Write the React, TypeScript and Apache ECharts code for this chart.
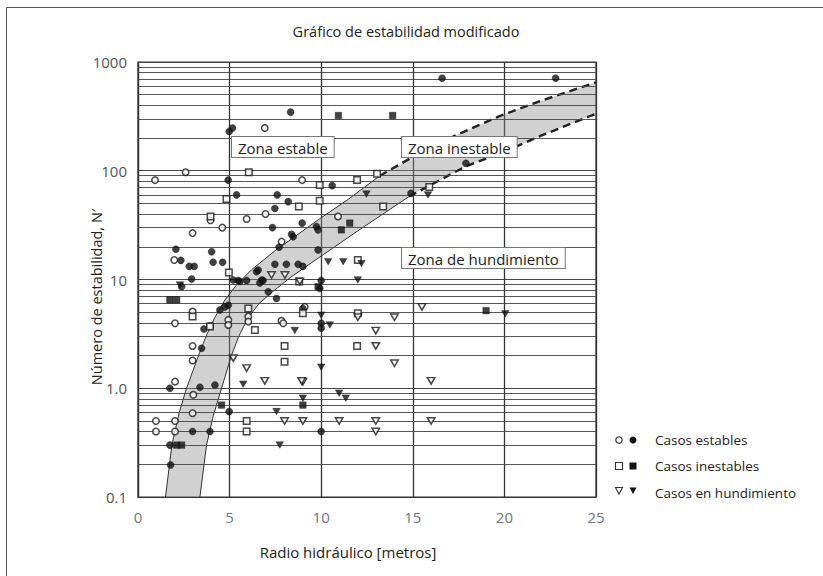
import React, { useEffect, useRef } from "react";
import * as echarts from "echarts";

// ---- data (x = radio hidráulico [m], y = número de estabilidad N') ----
const xTicks = [0, 5, 10, 15, 20, 25];
const yDecades = [0.1, 1, 10, 100];
const yMultipliers = [2, 3, 4, 5, 6, 7, 8, 9];

// transition zone boundaries
const bandUpper: number[][] = [
  [1.5, 0.1], [1.85, 0.3], [2.25, 0.6], [2.65, 1.0], [3.0, 1.45], [3.35, 2.1], [3.75, 3.1],
  [4.2, 4.5], [4.75, 6.5], [5.4, 9.0], [6.2, 12.3], [7.5, 18.5], [9.9, 36], [11.5, 55],
  [13.2, 90], [15.2, 140], [17.4, 214], [19.7, 316], [22, 440], [25, 650],
];
const bandLower: number[][] = [
  [3.38, 0.1], [3.74, 0.3], [4.1, 0.55], [4.56, 1.0], [5.1, 2.0], [5.5, 3.0], [6.0, 4.4],
  [6.6, 6.0], [7.3, 7.6], [8.3, 10.4], [9.9, 16], [12, 28], [14.8, 58], [17.9, 110],
  [20, 150], [22, 210], [25, 335],
];
const upperDashFrom = 14; // index in bandUpper where the dashed part starts
const lowerDashFrom = 12;

const establesOpen: number[][] = [
  [6.92, 247], [0.93, 82], [2.6, 97], [8.96, 82], [6.96, 40], [3.96, 35], [5.93, 36],
  [4.6, 30], [2.98, 26.7], [1.98, 15.1], [7.84, 22.3], [10.92, 38], [2.98, 5.07],
  [2.02, 3.96], [4.93, 4.25], [4.93, 3.82], [6.02, 4.56], [6.02, 4.1], [2.98, 2.45],
  [2.98, 1.8], [7.83, 4.17], [7.93, 3.96], [9.1, 5.6], [3.93, 3.74], [2.02, 1.15],
  [3.02, 0.87], [2.98, 0.59], [0.98, 0.5], [0.98, 0.4], [2.02, 0.5], [2.02, 0.4],
];
const establesFilled: number[][] = [
  [8.33, 346], [16.6, 710], [22.8, 710], [4.98, 230], [5.16, 247], [4.92, 82], [10.6, 73],
  [5.38, 60], [7.6, 60], [8.2, 52], [7.47, 45], [7.34, 30], [8.96, 33], [2.07, 19],
  [2.34, 15], [2.8, 13.2], [3.07, 13.2], [4.02, 18], [4.1, 14.4], [4.62, 14.4], [8.38, 26],
  [8.47, 24.7], [7.7, 19.8], [9.74, 30.7], [9.83, 28.6], [9.83, 18.7], [2.93, 10.1],
  [2.38, 8.6], [7.47, 13.8], [8.1, 13.8], [8.74, 13.8], [9.0, 13.2], [5.2, 9.9], [5.47, 9.8],
  [5.93, 9.8], [6.83, 9.8], [6.75, 9.9], [6.65, 9.3], [5.56, 9.6], [6.47, 11.8], [6.56, 12.2],
  [10.0, 9.8], [9.92, 8.3], [14.9, 62], [17.9, 117], [10.0, 3.96], [10.0, 3.57], [10.0, 0.4],
  [4.47, 5.25], [4.93, 5.8], [4.74, 5.6], [3.6, 3.5], [3.47, 2.33], [1.74, 1.0], [3.38, 1.02],
  [4.2, 1.07], [4.98, 0.61], [2.98, 0.4], [3.93, 0.4], [1.78, 0.197], [1.74, 0.3],
  [7.56, 6.7], [7.11, 7.7], [9.0, 5.4],
];
const inestablesOpen: number[][] = [
  [6.05, 97], [9.92, 74], [4.83, 55], [8.78, 47], [9.92, 53], [3.96, 38], [13.05, 94],
  [13.38, 47], [11.96, 82], [15.9, 71], [4.96, 11.6], [8.8, 9.6], [2.98, 4.56], [3.93, 3.69],
  [6.02, 5.4], [6.38, 3.44], [8.0, 2.45], [8.0, 1.75], [9.0, 4.9], [5.93, 0.5], [5.93, 0.4],
  [11.96, 2.45], [12.0, 4.9], [12.0, 15.1],
];
const inestablesFilled: number[][] = [
  [10.94, 322], [13.9, 322], [11.56, 33], [11.1, 28.6], [9.83, 8.6], [19.0, 5.17],
  [9.0, 0.7], [1.74, 6.5], [2.11, 6.5], [4.56, 0.7], [2.11, 0.3], [2.38, 0.3],
];
const hundimientoOpen: number[][] = [
  [7.29, 11.0], [8.02, 11.0], [8.83, 9.6], [12.0, 4.5], [14.0, 4.5], [12.98, 3.39],
  [12.98, 2.45], [14.0, 1.7], [15.5, 5.6], [16.0, 1.17], [9.0, 1.15], [9.0, 0.5],
  [10.98, 0.5], [12.98, 0.5], [12.98, 0.4], [16.0, 0.5], [5.2, 1.89], [5.93, 1.53],
  [6.92, 1.17], [8.93, 1.17], [8.0, 0.5],
];
const hundimientoFilled: number[][] = [
  [12.47, 61], [15.83, 60], [10.38, 14.6], [11.2, 14.6], [12.2, 14.0], [12.0, 9.9],
  [10.0, 4.7], [10.47, 3.82], [10.0, 1.56], [10.98, 0.9], [11.34, 0.81], [9.0, 0.81],
  [20.05, 4.83], [7.56, 0.61], [7.74, 0.3], [5.74, 1.09], [8.56, 3.39], [2.29, 8.9],
];

const legendLabels = ["Casos estables", "Casos inestables", "Casos en hundimiento"];
const zoneLabels = ["Zona estable", "Zona inestable", "Zona de hundimiento"];
const titleText = "Gráfico de estabilidad modificado";
const xName = "Radio hidráulico [metros]";
const yName = "Número de estabilidad, N′";

const FONT = "'Open Sans', 'Noto Sans', sans-serif";
const TRI = "path://M0,0L10,0L5,9Z";

export default function App() {
  const ref = useRef<HTMLDivElement>(null);
  useEffect(() => {
    if (!ref.current) return;
    const chart = echarts.init(ref.current, undefined, { renderer: "svg" });
    const minorValues: number[] = [];
    yDecades.forEach((d) => yMultipliers.forEach((m) => minorValues.push(+(d * m).toPrecision(3))));
    const polygon = bandUpper.concat(bandLower.slice().reverse());

    const openStyle = { color: "#fff", borderColor: "#1a1a1a", borderWidth: 1.5 };
    const filledStyle = { color: "#111", borderColor: "#111", borderWidth: 0.5 };
    const sc = (name: string, data: number[][], symbol: string, size: number | number[], style: any) => ({
      name, type: "scatter", data, symbol, symbolSize: size, itemStyle: style, z: 5, silent: true,
    });
    const edge = (data: number[][], dashed: boolean) => ({
      type: "line", data, symbol: "none", silent: true, z: 3,
      lineStyle: dashed
        ? { color: "#222", width: 2.4, type: [8, 5] }
        : { color: "#333", width: 1 },
    });

    const legendX = 619, legendY = [440, 466, 491];
    const legendGraphics: any[] = [];
    legendY.forEach((y, i) => {
      if (i === 0) {
        legendGraphics.push({ type: "circle", shape: { cx: legendX, cy: y, r: 3.2 }, style: { fill: "#fff", stroke: "#333", lineWidth: 1.2 } });
        legendGraphics.push({ type: "circle", shape: { cx: legendX + 14, cy: y, r: 3.5 }, style: { fill: "#111" } });
      } else if (i === 1) {
        legendGraphics.push({ type: "rect", shape: { x: legendX - 3.5, y: y - 3.5, width: 7, height: 7 }, style: { fill: "#fff", stroke: "#333", lineWidth: 1.2 } });
        legendGraphics.push({ type: "rect", shape: { x: legendX + 10.5, y: y - 3.5, width: 7, height: 7 }, style: { fill: "#111" } });
      } else {
        legendGraphics.push({ type: "polygon", shape: { points: [[legendX - 3.5, y - 3.5], [legendX + 3.5, y - 3.5], [legendX, y + 3]] }, style: { fill: "#fff", stroke: "#333", lineWidth: 1.1 } });
        legendGraphics.push({ type: "polygon", shape: { points: [[legendX + 10.5, y - 3.5], [legendX + 17.5, y - 3.5], [legendX + 14, y + 3]] }, style: { fill: "#111" } });
      }
      legendGraphics.push({
        type: "text", x: 655, y: y + (i === 2 ? 2 : 0),
        style: { text: legendLabels[i], font: `13.5px ${FONT}`, fill: "#222", verticalAlign: "middle" },
      });
    });

    const zoneBox = (text: string, x: number, y: number) => ({
      type: "text", x, y, z: 20,
      style: {
        text, font: `15px ${FONT}`, fill: "#222", backgroundColor: "#fff",
        borderColor: "#777", borderWidth: 1, padding: [3, 6, 2, 6],
      },
    });

    chart.setOption({
      animation: false,
      backgroundColor: "#fff",
      grid: { left: 138, top: 62, width: 458, height: 435, show: true, borderColor: "#333", borderWidth: 1.2 },
      xAxis: {
        type: "value", min: 0, max: 25, interval: 5,
        axisLine: { show: true, lineStyle: { color: "#333", width: 1.2 } },
        axisTick: { show: false },
        axisLabel: { margin: 12, fontFamily: FONT, fontSize: 15, color: "#777", formatter: (v: number) => (xTicks.includes(v) ? String(v) : "") },
        splitLine: { show: true, lineStyle: { color: "#333", width: 1.3 } },
      },
      yAxis: {
        type: "log", logBase: 10, min: 0.1, max: 1000,
        axisLine: { show: true, lineStyle: { color: "#333", width: 1.2 } },
        axisTick: { show: false },
        axisLabel: { margin: 11, fontFamily: FONT, fontSize: 15, color: "#555", formatter: (v: number) => (Math.abs(v - 1) < 1e-9 ? "1.0" : String(+v.toPrecision(3))) },
        splitLine: { show: true, lineStyle: { color: "#444", width: 1 } },
      },
      graphic: [
        { type: "rect", shape: { x: 6.5, y: 7.5, width: 830, height: 580 }, style: { fill: "none", stroke: "#555", lineWidth: 1 }, z: 30 },
        { type: "text", x: 406, y: 31, style: { text: titleText, font: `14.5px ${FONT}`, fill: "#222", align: "center", verticalAlign: "middle" } },
        { type: "text", x: 348, y: 552, style: { text: xName, font: `15px ${FONT}`, fill: "#222", align: "center", verticalAlign: "middle" } },
        { type: "text", x: 96, y: 297, rotation: Math.PI / 2, style: { text: yName, font: `14.5px ${FONT}`, fill: "#222", align: "center", verticalAlign: "middle" } },
        zoneBox(zoneLabels[0], 232, 137),
        zoneBox(zoneLabels[1], 402, 137),
        zoneBox(zoneLabels[2], 402, 248),
        ...legendGraphics,
      ],
      series: [
        {
          type: "line", data: [], symbol: "none", silent: true, z: 1,
          markLine: {
            silent: true, symbol: ["none", "none"], label: { show: false },
            lineStyle: { color: "#444", width: 0.9, type: "solid" },
            data: minorValues.map((v) => ({ yAxis: v })),
          },
        },
        {
          type: "custom", silent: true, z: 2, data: [[5, 1]], clip: true,
          renderItem: (_p: any, api: any) => ({
            type: "polygon",
            shape: { points: polygon.map((p) => api.coord(p)) },
            style: { fill: "rgba(140,140,140,0.4)" },
          }),
        },
        edge(bandUpper.slice(0, upperDashFrom + 1), false),
        edge(bandUpper.slice(upperDashFrom), true),
        edge(bandLower.slice(0, lowerDashFrom + 1), false),
        edge(bandLower.slice(lowerDashFrom), true),
        sc("Casos estables (abierto)", establesOpen, "circle", 6.5, openStyle),
        sc("Casos estables", establesFilled, "circle", 7, filledStyle),
        sc("Casos inestables (abierto)", inestablesOpen, "rect", 6.5, openStyle),
        sc("Casos inestables", inestablesFilled, "rect", 6.5, filledStyle),
        sc("Casos en hundimiento (abierto)", hundimientoOpen, TRI, [7.5, 6.5], openStyle),
        sc("Casos en hundimiento", hundimientoFilled, TRI, [7.5, 6.5], filledStyle),
      ],
    });
    return () => chart.dispose();
  }, []);
  return <div ref={ref} style={{ position: "fixed", left: 0, top: 0, width: 823, height: 576 }} />;
}
